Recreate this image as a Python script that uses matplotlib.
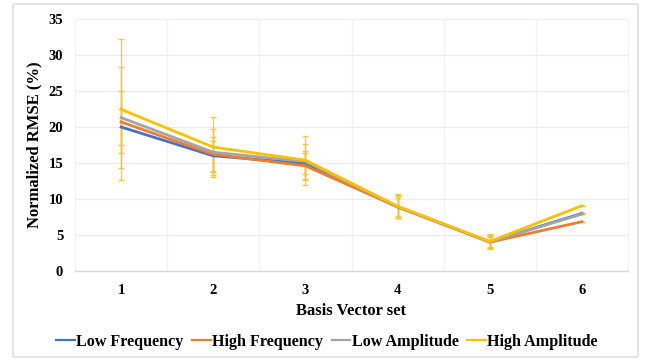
import matplotlib
matplotlib.use("Agg")
import matplotlib.pyplot as plt
from matplotlib.patches import FancyBboxPatch
from matplotlib.lines import Line2D

plt.rcParams['font.family'] = ['Liberation Serif', 'DejaVu Serif']
plt.rcParams['font.weight'] = 'bold'

basis_sets = [1, 2, 3, 4, 5, 6]
series_names = ["Low Frequency", "High Frequency", "Low Amplitude", "High Amplitude"]

low_freq = [20.0, 16.0, 14.95, 8.9, 4.05, 8.0]
high_freq = [20.7, 16.2, 14.6, 8.9, 4.0, 6.85]
low_amp = [21.3, 16.5, 15.2, 8.95, 4.05, 7.9]
high_amp = [22.45, 17.2, 15.4, 9.0, 4.1, 9.07]

low_freq_err = [2.5, 2.1, 1.5, 1.5, 0.8, 0.0]
high_freq_err = [4.3, 2.45, 2.0, 1.3, 0.7, 0.0]
low_amp_err = [7.0, 3.2, 2.4, 1.6, 0.9, 0.0]
high_amp_err = [9.75, 4.2, 3.4, 1.7, 1.0, 0.0]

colors = ["#4472C4", "#ED7D31", "#A5A5A5", "#FFC000"]
err_color = "#F2C330"

fig = plt.figure(figsize=(6.47, 3.6), dpi=100)

# outer chart frame
frame = FancyBboxPatch((13 / 647, 1 - 357 / 360), (638 - 13) / 647, (357 - 4) / 360,
                       boxstyle="round,pad=0,rounding_size=0.004",
                       transform=fig.transFigure, facecolor="white",
                       edgecolor="#d9d9d9", linewidth=1.0, zorder=-10)
fig.patches.append(frame)

left, right, bottom, top = 75 / 647, 628 / 647, 1 - 271 / 360, 1 - 19 / 360
ax = fig.add_axes([left, bottom, right - left, top - bottom])
ax.set_zorder(2)
ax.set_facecolor("none")

values = [low_freq, high_freq, low_amp, high_amp]
errors = [low_freq_err, high_freq_err, low_amp_err, high_amp_err]

for vals, errs in zip(values, errors):
    ax.errorbar(basis_sets, vals, yerr=errs, fmt="none", ecolor=err_color,
                elinewidth=1.0, capsize=2, capthick=1.0, alpha=0.85, zorder=2)

for i, (vals, name, c) in enumerate(zip(values, series_names, colors)):
    ax.plot(basis_sets, vals, color=c, linewidth=2.0, label=name, zorder=3 + i)

ax.set_xlim(0.5, 6.5)
ax.set_ylim(0, 35)
ax.set_yticks(range(0, 36, 5))
ax.set_xticks(basis_sets)
ax.set_xticks([1.5, 2.5, 3.5, 4.5, 5.5], minor=True)
ax.grid(axis="y", which="major", color="#ececec", linewidth=0.9)
ax.grid(axis="x", which="minor", color="#f2f2f2", linewidth=0.9)
ax.set_axisbelow(True)
ax.tick_params(axis="both", which="both", length=0, labelsize=10.5, colors="black")
ax.tick_params(axis="x", pad=9)
ax.tick_params(axis="y", pad=8.5)
for lab in ax.get_xticklabels() + ax.get_yticklabels():
    lab.set_fontweight("bold")

for side in ["top", "right", "left"]:
    ax.spines[side].set_color("#f0f0f0")
    ax.spines[side].set_linewidth(0.8)
ax.spines["bottom"].set_color("#d9d9d9")
ax.spines["bottom"].set_linewidth(1.0)

ax.set_xlabel("Basis Vector set", fontsize=12, fontweight="bold", labelpad=5)
ax.set_ylabel("Normalized RMSE (%)", fontsize=12, fontweight="bold", labelpad=4)

handles = [Line2D([0], [0], color=c, linewidth=1.6) for c in colors]
fig.legend(handles, series_names, loc="center", bbox_to_anchor=(327 / 647, 1 - 342 / 360),
           ncol=4, frameon=False, handlelength=1.15, handletextpad=0.08,
           columnspacing=0.55, prop={"weight": "bold", "size": 11.6})

fig.savefig("out.png", dpi=100)
